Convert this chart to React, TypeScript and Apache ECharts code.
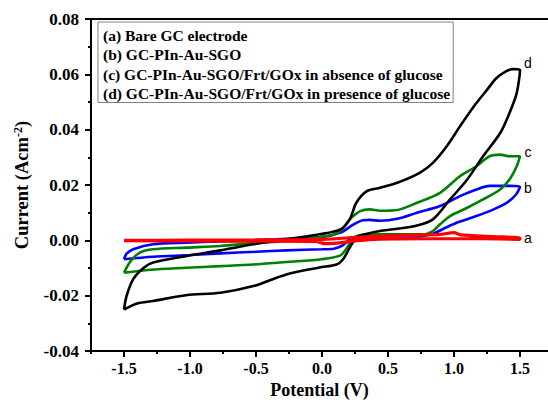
import React, { useEffect, useRef } from "react";
import * as echarts from "echarts";

// ---- Data (potential V, current A cm^-2) ----
const seriesNames = [
  "(a) Bare GC electrode",
  "(b) GC-PIn-Au-SGO",
  "(c) GC-PIn-Au-SGO/Frt/GOx in absence of glucose",
  "(d) GC-PIn-Au-SGO/Frt/GOx in presence of glucose",
];
const curveLetters = ["a", "b", "c", "d"];
const curveColors = ["#ff0000", "#0000ff", "#008000", "#000000"];

const curveA: number[][] = [
  [-1.5, 0.0], [-1.0, 0.0001], [-0.5, 0.0002], [0.0, 0.0004], [0.3, 0.0012], [0.6, 0.0018],
  [0.9, 0.0022], [1.0, 0.0028], [1.05, 0.002], [1.3, 0.0014], [1.5, 0.0008],
  [1.5, 0.0004], [1.2, 0.0006], [0.8, 0.0006], [0.4, 0.0004], [0.25, -0.0002], [0.03, -0.0012],
  [-0.05, -0.0004], [-0.5, -0.0003], [-1.0, -0.0002], [-1.5, -0.0001],
];

const curveB: number[][] = [
  [-1.5, -0.0068], [-1.28, -0.0059], [-1.0, -0.0053], [-0.77, -0.0047], [-0.5, -0.0041], [-0.27, -0.0036],
  [0.0, -0.0032], [0.09, -0.003], [0.15, -0.002], [0.21, 0.0004], [0.29, 0.0014], [0.44, 0.0016],
  [0.6, 0.0014], [0.72, 0.0014], [0.84, 0.0024], [0.92, 0.0042], [1.02, 0.0064], [1.17, 0.0088],
  [1.3, 0.0112], [1.4, 0.0136], [1.47, 0.0166], [1.5, 0.0194],
  [1.42, 0.0197], [1.35, 0.0197], [1.27, 0.0197], [1.17, 0.0184], [1.045, 0.016], [0.894, 0.0124],
  [0.72, 0.01], [0.57, 0.0078], [0.44, 0.0071], [0.36, 0.0074], [0.31, 0.0073], [0.24, 0.0058],
  [0.14, 0.0028], [0.0, 0.0012], [-0.27, 0.0006], [-0.52, 0.0], [-0.77, -0.0004], [-1.03, -0.0008],
  [-1.28, -0.0014], [-1.43, -0.0032], [-1.48, -0.0048], [-1.5, -0.0068],
];

const curveC: number[][] = [
  [-1.5, -0.0117], [-1.3, -0.0106], [-1.03, -0.0099], [-0.77, -0.0093], [-0.52, -0.0087], [-0.27, -0.0078],
  [0.0, -0.0068], [0.14, -0.0054], [0.19, -0.0026], [0.24, 0.001], [0.34, 0.0022], [0.59, 0.0022],
  [0.77, 0.0022], [0.84, 0.0034], [0.894, 0.0058], [0.97, 0.0088], [1.1, 0.0118], [1.22, 0.0148],
  [1.35, 0.0184], [1.42, 0.022], [1.475, 0.0268], [1.5, 0.0304],
  [1.42, 0.0304], [1.35, 0.031], [1.27, 0.0304], [1.17, 0.0268], [1.045, 0.0232], [0.894, 0.0172],
  [0.72, 0.0136], [0.57, 0.011], [0.44, 0.0107], [0.36, 0.0112], [0.29, 0.0106], [0.21, 0.0076],
  [0.14, 0.0034], [0.04, 0.0016], [-0.27, -0.0002], [-0.52, -0.001], [-0.77, -0.002], [-1.03, -0.0026],
  [-1.28, -0.0032], [-1.38, -0.0044], [-1.45, -0.0075], [-1.5, -0.0117],
];

const curveD: number[][] = [
  [-1.5, -0.025], [-1.4, -0.0228], [-1.28, -0.0219], [-1.03, -0.0198], [-0.77, -0.0189], [-0.52, -0.0165],
  [-0.27, -0.0123], [-0.02, -0.0098], [0.11, -0.0087], [0.16, -0.0068], [0.21, -0.0026], [0.26, 0.001],
  [0.34, 0.0024], [0.44, 0.0034], [0.54, 0.004], [0.72, 0.0054], [0.84, 0.0076], [0.97, 0.0148],
  [1.1, 0.022], [1.22, 0.0304], [1.35, 0.0388], [1.42, 0.046], [1.475, 0.0532], [1.5, 0.0616],
  [1.45, 0.0619], [1.39, 0.061], [1.32, 0.0586], [1.25, 0.0544], [1.15, 0.0484], [1.045, 0.0412],
  [0.945, 0.034], [0.84, 0.028], [0.74, 0.0244], [0.57, 0.0208], [0.44, 0.019], [0.34, 0.0178],
  [0.26, 0.0136], [0.21, 0.0076], [0.14, 0.004], [-0.02, 0.0022], [-0.27, 0.0004], [-0.52, -0.0014],
  [-0.77, -0.0036], [-1.03, -0.0057], [-1.28, -0.008], [-1.35, -0.0099], [-1.43, -0.014], [-1.48, -0.02],
  [-1.5, -0.025],
];

const curves = [curveA, curveB, curveC, curveD];
const letterX = 1.56;
const letterY = [0.001, 0.0191, 0.0321, 0.0641];

const xMajorTicks = [-1.5, -1.0, -0.5, 0.0, 0.5, 1.0, 1.5];
const xMinorTicks = [-1.75, -1.25, -0.75, -0.25, 0.25, 0.75, 1.25];

const SERIF = "'Liberation Serif', 'Times New Roman', serif";
const SANS = "'Liberation Sans', Arial, sans-serif";

export default function App() {
  const ref = useRef<HTMLDivElement>(null);
  useEffect(() => {
    if (!ref.current) return;
    const chart = echarts.init(ref.current, undefined, { renderer: "svg" });
    const xMin = -1.75;
    const xMax = 1.712;
    chart.setOption({
      animation: false,
      backgroundColor: "#ffffff",
      grid: { left: 91, top: 19, right: 0, bottom: 52, containLabel: false },
      legend: {
        data: seriesNames,
        orient: "vertical",
        left: 98,
        top: 22,
        padding: [5, 3, 1, 0],
        itemWidth: 0,
        itemHeight: 15,
        itemGap: 3.5,
        icon: "rect",
        itemStyle: { opacity: 0 },
        lineStyle: { opacity: 0 },
        borderColor: "#808080",
        borderWidth: 1,
        selectedMode: false,
        textStyle: {
          color: "#000",
          fontFamily: SERIF,
          fontWeight: "bold",
          fontSize: 15.5,
          lineHeight: 15,
        },
      },
      xAxis: [
        {
          type: "value",
          position: "bottom",
          min: xMin,
          max: xMax,
          name: "Potential (V)",
          nameLocation: "middle",
          nameGap: 26,
          nameTextStyle: { color: "#000", fontFamily: SERIF, fontWeight: "bold", fontSize: 18 },
          axisLine: { show: true, onZero: false, lineStyle: { color: "#000", width: 2 } },
          axisTick: { show: true, customValues: xMajorTicks, length: 6, lineStyle: { color: "#000", width: 2 } },
          axisLabel: {
            customValues: xMajorTicks,
            color: "#000",
            fontFamily: SERIF,
            fontWeight: "bold",
            fontSize: 16,
            margin: 9,
            formatter: (v: number) => v.toFixed(1),
          },
          splitLine: { show: false },
        },
        {
          type: "value",
          position: "top",
          min: xMin,
          max: xMax,
          axisLine: { show: true, onZero: false, lineStyle: { color: "#000", width: 2 } },
          axisTick: { show: false },
          axisLabel: { show: false },
          splitLine: { show: false },
        },
        {
          type: "value",
          position: "bottom",
          min: xMin,
          max: xMax,
          axisLine: { show: false, onZero: false },
          axisTick: { show: true, customValues: xMinorTicks, length: 3, lineStyle: { color: "#000", width: 2 } },
          axisLabel: { show: false },
          splitLine: { show: false },
        },
      ],
      yAxis: {
        type: "value",
        min: -0.04,
        max: 0.08,
        interval: 0.02,
        name: "{n|Current (Acm}{s|-2}{n|)}",
        nameLocation: "middle",
        nameGap: 60,
        nameTextStyle: {
          rich: {
            n: { color: "#000", fontFamily: SERIF, fontWeight: "bold", fontSize: 18.5 },
            s: { color: "#000", fontFamily: SERIF, fontWeight: "bold", fontSize: 12, verticalAlign: "top" },
          },
        },
        axisLine: { show: true, onZero: false, lineStyle: { color: "#000", width: 2 } },
        axisTick: { show: true, length: 6, lineStyle: { color: "#000", width: 2 } },
        minorTick: { show: true, splitNumber: 2, length: 3, lineStyle: { color: "#000", width: 2 } },
        axisLabel: {
          color: "#000",
          fontFamily: SERIF,
          fontWeight: "bold",
          fontSize: 17,
          margin: 12,
          formatter: (v: number) => v.toFixed(2),
        },
        splitLine: { show: false },
      },
      series: curves.map((c, i) => ({
        name: seriesNames[i],
        type: "line",
        xAxisIndex: 0,
        data: c,
        showSymbol: false,
        symbol: "none",
        smooth: 0.3,
        lineStyle: { color: curveColors[i], width: i === 0 ? 3.2 : 2.6 },
        itemStyle: { color: curveColors[i] },
        z: i === 0 ? 3 : 2,
        markPoint: {
          symbol: "circle",
          symbolSize: 0,
          silent: true,
          label: {
            show: true,
            position: "inside",
            color: "#000",
            fontFamily: SANS,
            fontSize: 14,
            formatter: curveLetters[i],
          },
          data: [{ coord: [letterX, letterY[i]], value: curveLetters[i] }],
        },
      })),
    });
    return () => chart.dispose();
  }, []);
  return (
    <div
      ref={ref}
      style={{ position: "absolute", left: 0, top: 0, width: 548, height: 404 }}
    />
  );
}
